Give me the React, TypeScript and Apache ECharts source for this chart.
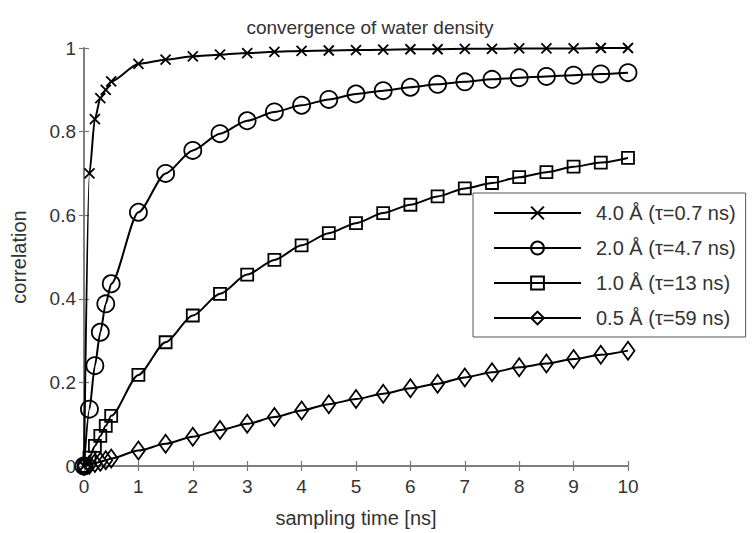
import React, { useEffect, useRef } from "react";
import * as echarts from "echarts";

const times = [0, 0.1, 0.2, 0.3, 0.4, 0.5, 1, 1.5, 2, 2.5, 3, 3.5, 4, 4.5, 5, 5.5, 6, 6.5, 7, 7.5, 8, 8.5, 9, 9.5, 10];
const seriesNames = ["4.0 Å (τ=0.7 ns)", "2.0 Å (τ=4.7 ns)", "1.0 Å (τ=13 ns)", "0.5 Å (τ=59 ns)"];
const corr40 = [0, 0.70, 0.83, 0.88, 0.90, 0.92, 0.962, 0.972, 0.98, 0.984, 0.988, 0.991, 0.993, 0.994, 0.995, 0.996, 0.997, 0.997, 0.998, 0.998, 0.999, 0.999, 0.999, 1.0, 1.0];
const corr20 = [0, 0.136, 0.24, 0.32, 0.388, 0.436, 0.607, 0.70, 0.755, 0.795, 0.826, 0.847, 0.863, 0.877, 0.89, 0.898, 0.906, 0.913, 0.919, 0.925, 0.929, 0.932, 0.935, 0.938, 0.941];
const corr10 = [0, 0.02, 0.048, 0.072, 0.096, 0.12, 0.218, 0.296, 0.36, 0.412, 0.458, 0.493, 0.528, 0.557, 0.581, 0.605, 0.625, 0.645, 0.664, 0.677, 0.691, 0.703, 0.716, 0.726, 0.737];
const corr05 = [0, 0.003, 0.007, 0.01, 0.014, 0.018, 0.037, 0.053, 0.07, 0.086, 0.101, 0.117, 0.133, 0.148, 0.16, 0.173, 0.186, 0.197, 0.212, 0.224, 0.236, 0.245, 0.256, 0.266, 0.276];
const xTicks = { min: 0, max: 10, interval: 1 };
const yTicks = { min: 0, max: 1, interval: 0.2 };
const titleText = "convergence of water density";
const xName = "sampling time [ns]";
const yName = "correlation";

const FONT = "'Liberation Sans', Arial, sans-serif";
const TEXT = "#333";
const AXIS = "#777";

export default function App() {
  const ref = useRef<HTMLDivElement>(null);
  useEffect(() => {
    if (!ref.current) return;
    const chart = echarts.init(ref.current, null, { renderer: "svg" });
    const mk = (name: string, vals: number[], symbol: string, size: any) => ({
      name,
      type: "line",
      data: times.map((t, i) => [t, vals[i]]),
      symbol,
      symbolSize: size,
      showAllSymbol: true,
      smooth: 0.25,
      smoothMonotone: "x",
      lineStyle: { color: "#000", width: 2 },
      itemStyle: { color: "rgba(0,0,0,0)", borderColor: "#000", borderWidth: 1.8 },
      emphasis: { disabled: true },
    });
    const axisCommon = {
      axisLine: { show: true, lineStyle: { color: AXIS, width: 1.5 } },
      axisTick: { show: true, inside: true, length: 5, lineStyle: { color: AXIS, width: 1.2 } },
      splitLine: { show: false },
    };
    chart.setOption({
      animation: false,
      backgroundColor: "#fff",
      textStyle: { fontFamily: FONT },
      graphic: [
        {
          type: "text",
          style: { text: titleText, x: 370, y: 27, align: "center", verticalAlign: "middle", fontSize: 19, fill: TEXT, fontFamily: FONT },
        },
      ],
      grid: { left: 84, right: 127, top: 48, bottom: 67 },
      legend: {
        orient: "vertical",
        left: 473,
        top: 193,
        padding: [10, 10, 9, 20],
        itemWidth: 87,
        itemHeight: 16,
        itemGap: 15,
        backgroundColor: "#fff",
        borderColor: "#555",
        borderWidth: 1,
        borderRadius: 0,
        textStyle: { fontSize: 20, color: TEXT, fontFamily: FONT, lineHeight: 20, padding: [0, 0, 0, 10] },
        data: seriesNames,
      },
      xAxis: [
        {
          type: "value",
          ...xTicks,
          ...axisCommon,
          name: xName,
          nameLocation: "middle",
          nameGap: 42,
          nameTextStyle: { fontSize: 20, color: TEXT },
          axisLabel: { fontSize: 19, color: TEXT, margin: 11 },
        },
        { type: "value", position: "top", ...xTicks, ...axisCommon, axisLabel: { show: false } },
      ],
      yAxis: [
        {
          type: "value",
          ...yTicks,
          ...axisCommon,
          name: yName,
          nameLocation: "middle",
          nameGap: 55,
          nameTextStyle: { fontSize: 20, color: TEXT },
          axisLabel: { fontSize: 19, color: TEXT, margin: 8 },
        },
        { type: "value", position: "right", ...yTicks, ...axisCommon, axisLabel: { show: false } },
      ],
      series: [
        mk(seriesNames[0], corr40, "path://M0 0L10 10M10 0L0 10", 10),
        mk(seriesNames[1], corr20, "circle", 17),
        mk(seriesNames[2], corr10, "rect", 12),
        mk(seriesNames[3], corr05, "diamond", [13, 18]),
      ],
    });
    return () => chart.dispose();
  }, []);
  return <div ref={ref} style={{ position: "fixed", left: 0, top: 0, width: 755, height: 533 }} />;
}
